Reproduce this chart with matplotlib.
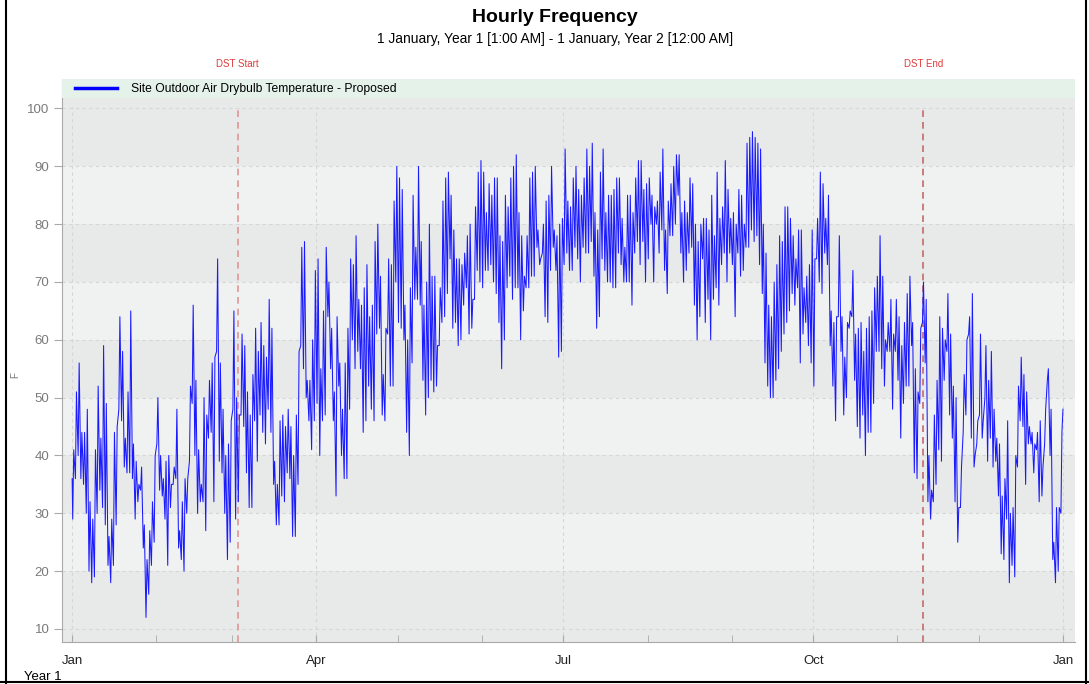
import numpy as np
import matplotlib.pyplot as plt
import matplotlib.dates as mdates
from matplotlib.lines import Line2D

plt.rcParams['font.family'] = ['Liberation Sans', 'DejaVu Sans']

# daily highs / lows (deg F), one per day of Year 1
daily_high = [
    41, 51, 56, 44, 44, 48, 32, 29, 41, 52,
    43, 59, 49, 26, 29, 44, 45, 64, 58, 43,
    51, 65, 42, 39, 35, 38, 28, 22, 27, 32,
    40, 50, 40, 36, 39, 40, 35, 38, 48, 27,
    32, 36, 36, 52, 66, 53, 41, 35, 50, 47,
    53, 56, 57, 74, 56, 48, 40, 42, 46, 65,
    50, 47, 61, 59, 51, 47, 54, 62, 58, 63,
    59, 57, 67, 62, 39, 35, 46, 47, 45, 48,
    45, 40, 47, 58, 76, 77, 53, 53, 60, 72,
    74, 55, 65, 76, 70, 62, 51, 64, 56, 48,
    56, 62, 74, 73, 78, 67, 66, 69, 73, 64,
    66, 77, 80, 71, 54, 62, 74, 73, 84, 90,
    88, 86, 66, 60, 69, 85, 76, 90, 77, 66,
    70, 80, 71, 71, 59, 69, 84, 88, 89, 85,
    79, 74, 74, 73, 75, 78, 80, 67, 83, 89,
    91, 89, 82, 87, 85, 88, 88, 78, 77, 85,
    83, 88, 90, 92, 82, 78, 71, 78, 88, 89,
    90, 79, 74, 80, 84, 85, 90, 79, 78, 80,
    81, 93, 84, 83, 88, 90, 86, 85, 88, 93,
    90, 94, 82, 79, 89, 93, 82, 85, 85, 86,
    88, 88, 81, 76, 85, 85, 82, 88, 91, 91,
    86, 87, 88, 85, 83, 84, 89, 93, 79, 84,
    87, 90, 92, 92, 82, 84, 82, 88, 87, 80,
    77, 80, 81, 81, 79, 85, 78, 89, 81, 83,
    91, 86, 81, 82, 80, 86, 85, 80, 94, 95,
    96, 95, 94, 93, 80, 75, 66, 64, 70, 73,
    78, 77, 83, 83, 81, 78, 74, 79, 79, 69,
    71, 73, 79, 74, 81, 89, 87, 81, 85, 65,
    63, 64, 78, 64, 57, 63, 65, 72, 61, 62,
    63, 58, 62, 64, 65, 69, 71, 78, 71, 60,
    63, 67, 61, 67, 64, 59, 63, 68, 71, 63,
    55, 51, 62, 70, 67, 40, 34, 47, 53, 64,
    62, 60, 68, 61, 52, 50, 31, 38, 54, 60,
    64, 68, 40, 46, 61, 46, 59, 53, 58, 48,
    43, 42, 33, 36, 46, 30, 31, 40, 52, 57,
    54, 51, 45, 44, 42, 44, 46, 38, 48, 55,
    48, 25, 31, 31, 44,
]
daily_low = [
    29, 36, 40, 36, 35, 30, 20, 18, 19, 30,
    34, 31, 28, 21, 18, 21, 28, 48, 46, 38,
    37, 37, 36, 29, 32, 34, 24, 12, 16, 21,
    25, 42, 34, 33, 29, 21, 31, 35, 36, 24,
    22, 20, 30, 39, 49, 40, 30, 32, 32, 27,
    43, 44, 32, 58, 39, 37, 30, 22, 25, 48,
    29, 32, 47, 45, 37, 31, 31, 46, 39, 47,
    44, 42, 48, 44, 35, 28, 28, 33, 32, 37,
    36, 26, 26, 35, 59, 55, 50, 46, 41, 46,
    49, 40, 46, 47, 64, 55, 46, 33, 52, 40,
    36, 36, 48, 60, 55, 58, 55, 44, 46, 52,
    48, 46, 61, 62, 47, 46, 61, 52, 52, 70,
    63, 62, 60, 44, 40, 56, 67, 67, 66, 53,
    47, 50, 53, 51, 52, 59, 63, 64, 68, 74,
    62, 63, 59, 60, 66, 69, 61, 62, 67, 72,
    70, 69, 72, 72, 73, 70, 68, 63, 55, 60,
    69, 71, 67, 69, 69, 60, 65, 69, 69, 71,
    71, 76, 73, 75, 64, 63, 72, 76, 72, 57,
    58, 73, 75, 72, 72, 76, 74, 70, 76, 75,
    75, 77, 71, 62, 64, 74, 72, 70, 70, 69,
    69, 75, 73, 70, 70, 70, 66, 75, 77, 73,
    77, 70, 74, 80, 70, 80, 75, 79, 72, 68,
    78, 78, 80, 85, 75, 70, 72, 75, 76, 66,
    60, 64, 74, 63, 67, 60, 67, 69, 66, 73,
    75, 70, 75, 73, 64, 75, 71, 72, 76, 76,
    79, 77, 78, 73, 68, 56, 52, 50, 50, 53,
    55, 58, 61, 63, 65, 68, 66, 69, 56, 61,
    63, 59, 56, 52, 74, 70, 68, 75, 73, 59,
    52, 46, 64, 58, 47, 50, 62, 64, 53, 45,
    43, 47, 40, 44, 44, 49, 58, 58, 55, 52,
    58, 58, 48, 58, 53, 43, 49, 52, 52, 59,
    37, 36, 49, 63, 56, 32, 29, 32, 35, 41,
    39, 53, 58, 47, 43, 32, 25, 31, 44, 47,
    61, 43, 38, 42, 47, 43, 50, 39, 43, 38,
    39, 33, 23, 22, 29, 18, 21, 19, 38, 46,
    45, 35, 42, 42, 37, 41, 32, 33, 42, 53,
    40, 22, 18, 20, 30,
]
first_temp = 36   # 1:00 AM, 1 January Year 1
last_temp = 48    # 12:00 AM, 1 January Year 2

year_start = np.datetime64('2001-01-01T00:00')
year_end = np.datetime64('2002-01-01T00:00')
dst_start = np.datetime64('2001-03-03T00:00')
dst_end = np.datetime64('2001-11-10T12:00')
low_hour = 6
high_hour = 15

# build the time axis: one low and one high per day
n_days = len(daily_high)
day_start = year_start + np.arange(n_days) * np.timedelta64(1, 'D')
times = np.empty(2 * n_days + 2, dtype='datetime64[m]')
times[0] = year_start + np.timedelta64(1, 'h')
times[1:-1:2] = day_start + np.timedelta64(low_hour, 'h')
times[2:-1:2] = day_start + np.timedelta64(high_hour, 'h')
times[-1] = year_end
temps = np.concatenate([[first_temp],
                        np.column_stack([daily_low, daily_high]).ravel(),
                        [last_temp]])

fig = plt.figure(figsize=(10.89, 6.84), dpi=100)
ax = fig.add_axes([0.0569, 0.0614, 0.9302, 0.8231])

dark_band = '#e8e9e9'
light_band = '#f0f1f1'
ax.set_facecolor(dark_band)
for lo in [20, 40, 60, 80]:
    ax.axhspan(lo, lo + 10, color=light_band, lw=0, zorder=0.2)

line, = ax.plot(times, temps, color='#1a1aff', lw=0.75, zorder=2)

for when, col, txt in [(dst_start, '#e09595', 'DST Start'),
                       (dst_end, '#c46a6a', 'DST End')]:
    ax.axvline(when, color=col, lw=1.2, ls=(0, (4, 3)), zorder=1.5)
    ax.text(when, 1.026, txt, transform=ax.get_xaxis_transform(),
            ha='center', va='center', fontsize=7, color='#e03a3a')

# top strip above 100 holds the legend
ax.axhspan(100.2, 105.1, color=dark_band, lw=0, zorder=2.5)
ax.axhspan(101.8, 105.1, color='#e5f2ea', lw=0, zorder=2.6)

ax.set_ylim(7.75, 105.1)
ax.set_xlim(year_start - np.timedelta64(89, 'h'), year_start + np.timedelta64(8866, 'h'))

ax.set_yticks(np.arange(10, 101, 10))
ax.xaxis.set_major_locator(mdates.MonthLocator(bymonth=[1, 4, 7, 10]))
ax.xaxis.set_major_formatter(mdates.DateFormatter('%b'))
ax.xaxis.set_minor_locator(mdates.MonthLocator())

ax.set_axisbelow(True)
ax.grid(True, which='major', color='#d6d6d6', lw=0.8, ls=(0, (3, 3)))

for side in ['top', 'right']:
    ax.spines[side].set_visible(False)
for side in ['left', 'bottom']:
    ax.spines[side].set_color('#a9a9a9')

ax.tick_params(axis='x', which='both', direction='in', length=5, color='#a9a9a9',
               labelsize=9.5, labelcolor='#222222', pad=9)
ax.tick_params(axis='y', direction='out', length=6, color='#a9a9a9',
               labelsize=9.5, labelcolor='#7a7a7a', pad=3)

ax.set_ylabel('F', fontsize=7, color='#777777')
ax.yaxis.set_label_coords(-0.041, 0.474)

ax.legend(handles=[Line2D([], [], color='#0000ff', lw=2.5)],
          labels=['Site Outdoor Air Drybulb Temperature - Proposed'],
          loc='center left', bbox_to_anchor=(0.0128, 0.982), frameon=False,
          borderpad=0, borderaxespad=0, handlelength=3.5, handletextpad=1.1,
          fontsize=8.7)

fig.text(0.5097, 1 - 18 / 684, 'Hourly Frequency', ha='center', va='center',
         fontsize=14, fontweight='bold')
fig.text(0.5097, 1 - 39 / 684, '1 January, Year 1 [1:00 AM] - 1 January, Year 2 [12:00 AM]',
         ha='center', va='center', fontsize=9.9)
fig.text(24 / 1089, 1 - 677 / 684, 'Year 1', ha='left', va='center', fontsize=9.5)

# screenshot frame
for xs, ys in [([0.0055, 0.0055], [0, 1]), ([0.9972, 0.9972], [0, 1]), ([0, 1], [0.003, 0.003])]:
    fig.add_artist(Line2D(xs, ys, transform=fig.transFigure, color='black', lw=1.5))

fig.savefig('out.png', dpi=100)
